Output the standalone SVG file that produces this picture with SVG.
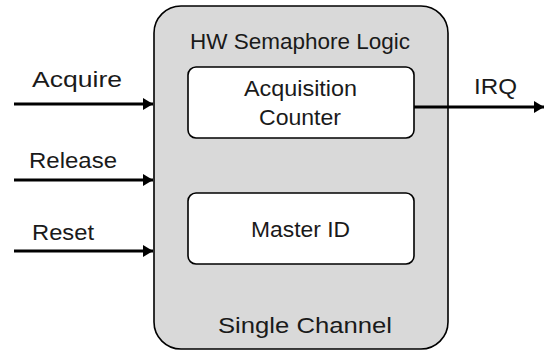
<svg xmlns="http://www.w3.org/2000/svg" width="544" height="351" viewBox="0 0 544 351">
<style>
text{font-family:"Liberation Sans",Arial,sans-serif;font-size:22px;fill:#1a1a1a}
.box{fill:#ffffff;stroke:#000;stroke-width:1.6}
.conn{stroke:#000;stroke-width:3;fill:none}
</style>
<defs>
<marker id="ah" markerWidth="10" markerHeight="12" refX="10" refY="6" orient="auto" markerUnits="userSpaceOnUse">
<path d="M0,0 L10,6 L0,12 Z" fill="#000"/>
</marker>
</defs>
<rect width="544" height="351" fill="#fff"/>
<g id="channel">
<rect x="154" y="6" width="294" height="343" rx="27" fill="#d9d9d9" stroke="#000" stroke-width="1.6"/>
<text x="190" y="49" textLength="220" lengthAdjust="spacingAndGlyphs">HW Semaphore Logic</text>
<text x="218" y="333" textLength="174" lengthAdjust="spacingAndGlyphs">Single Channel</text>
</g>
<g id="counter">
<rect class="box" x="188" y="67" width="226" height="71" rx="8"/>
<text x="244" y="96" textLength="113" lengthAdjust="spacingAndGlyphs">Acquisition</text>
<text x="259" y="125" textLength="82" lengthAdjust="spacingAndGlyphs">Counter</text>
</g>
<g id="masterid">
<rect class="box" x="188" y="193" width="226" height="71" rx="8"/>
<text x="251" y="237" textLength="99" lengthAdjust="spacingAndGlyphs">Master ID</text>
</g>
<g id="connectors">
<line class="conn" x1="14" y1="104" x2="153" y2="104" marker-end="url(#ah)"/>
<line class="conn" x1="14" y1="180" x2="153" y2="180" marker-end="url(#ah)"/>
<line class="conn" x1="14" y1="251" x2="153" y2="251" marker-end="url(#ah)"/>
<line class="conn" x1="414" y1="107" x2="544" y2="107" marker-end="url(#ah)"/>
<text x="32" y="87" textLength="90" lengthAdjust="spacingAndGlyphs">Acquire</text>
<text x="29" y="168" textLength="88" lengthAdjust="spacingAndGlyphs">Release</text>
<text x="32" y="240" textLength="62" lengthAdjust="spacingAndGlyphs">Reset</text>
<text x="474" y="94" textLength="43" lengthAdjust="spacingAndGlyphs">IRQ</text>
</g>
</svg>
